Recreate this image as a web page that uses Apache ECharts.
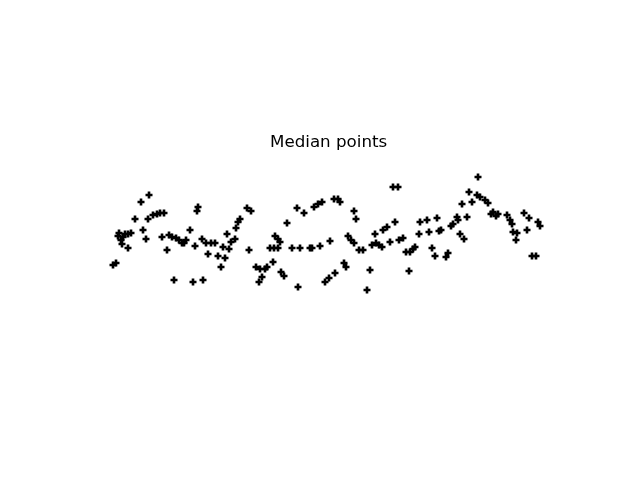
<!DOCTYPE html>
<html>
<head>
<meta charset="utf-8">
<script src="https://cdn.jsdelivr.net/npm/echarts@6/dist/echarts.min.js"></script>
<style>
  html, body { margin: 0; padding: 0; background: #fff; }
  #chart { width: 640px; height: 480px; }
</style>
</head>
<body>
<div id="chart"></div>
<script>
// point positions (x right, y up)
const xVals = [
  113, 116, 141, 149, 135, 148, 153, 157, 160, 164, 119, 118, 121, 123, 125, 128, 131, 128, 122, 143, 146, 162, 167,
  198, 197, 190, 169, 172, 176, 179, 182, 186, 184, 195, 202, 206, 211, 215, 208, 227, 223, 231, 229, 218, 225, 221, 174, 193, 203,
  247, 251, 240, 238, 236, 235, 249, 275, 278, 280, 270, 274, 278, 287, 292, 297, 256, 260, 265, 267, 273, 262, 259, 281, 284,
  304, 314, 318, 322, 334, 338, 340, 354, 356, 300, 310, 312, 320, 330, 348, 351, 354, 359, 344, 346, 335, 329, 325, 298,
  393, 398, 363, 372, 376, 379, 382, 375, 383, 387, 395, 390, 399, 403, 406, 410, 413, 415, 420, 419, 370, 409, 367,
  478, 469, 477, 480, 485, 488, 462, 472, 427, 437, 457, 458, 467, 429, 439, 441, 451, 453, 460, 464, 432, 435, 446, 448,
  493, 496, 491, 498, 507, 510, 512, 513, 517, 516, 524, 529, 527, 538, 540, 532, 536
];
const yPix = [
  265, 263, 202, 195, 219, 219, 215, 214, 213, 213, 233, 236, 240, 237, 234, 234, 233, 248, 244, 230, 239, 237, 250,
  207, 211, 230, 235, 237, 238, 240, 243, 240, 243, 246, 239, 243, 243, 243, 254, 234, 247, 242, 249, 256, 258, 267, 280, 282, 280,
  208, 211, 219, 222, 228, 239, 250, 236, 239, 242, 248, 248, 248, 223, 248, 208, 267, 269, 269, 267, 262, 277, 282, 272, 276,
  213, 207, 204, 202, 199, 199, 202, 211, 219, 248, 248, 248, 246, 241, 236, 240, 243, 250, 263, 267, 273, 278, 282, 287,
  187, 187, 250, 245, 243, 245, 247, 234, 230, 227, 222, 242, 240, 238, 252, 252, 249, 247, 222, 234, 270, 271, 290,
  177, 192, 195, 197, 200, 203, 204, 202, 220, 218, 217, 220, 217, 232, 231, 230, 226, 224, 234, 239, 248, 256, 257, 253,
  212, 216, 214, 214, 215, 220, 224, 232, 233, 240, 213, 218, 230, 222, 226, 256, 256
];
const yVals = yPix.map(v => 480 - v);

const points = xVals.map((x, i) => [x, yVals[i]]);

const chart = echarts.init(document.getElementById('chart'));
chart.setOption({
  animation: false,
  title: {
    text: 'Median points',
    left: 270,
    top: 134,
    padding: 0,
    textStyle: { fontFamily: 'DejaVu Sans', fontWeight: 'normal', fontSize: 16.7, color: '#000' }
  },
  grid: { left: 0, right: 0, top: 0, bottom: 0 },
  xAxis: { type: 'value', min: 0, max: 640, show: false },
  yAxis: { type: 'value', min: 0, max: 480, show: false },
  series: [{
    type: 'scatter',
    data: points,
    symbol: 'path://M2.5,0H5.5V2.5H8V5.5H5.5V8H2.5V5.5H0V2.5H2.5Z',
    symbolSize: 7,
    itemStyle: { color: '#000', opacity: 1 }
  }]
});
</script>
</body>
</html>
